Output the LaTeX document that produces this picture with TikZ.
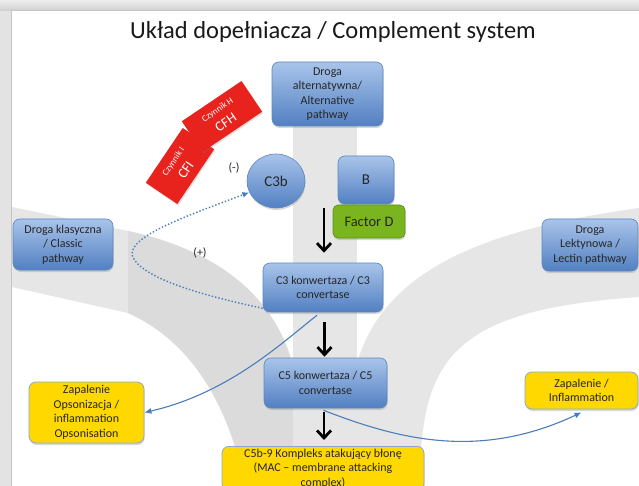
\documentclass[tikz,border=0pt]{standalone}
\usepackage{fontspec}
\setmainfont{Carlito}
\usetikzlibrary{arrows.meta,shadows,calc,shapes.geometric}
\definecolor{bgY}{HTML}{E6E6E6}
\definecolor{bgYd}{HTML}{DBDBDB}
\definecolor{btop}{HTML}{A9C4EA}
\definecolor{bbot}{HTML}{5280C2}
\definecolor{bdraw}{HTML}{5A86C2}
\definecolor{ylw}{HTML}{FFD800}
\definecolor{ydraw}{HTML}{8CA6CF}
\definecolor{grn}{HTML}{7AB51F}
\definecolor{gdraw}{HTML}{5C8E1A}
\definecolor{redc}{HTML}{E8221C}
\definecolor{lnblue}{HTML}{4A7EBB}
\tikzset{
  boxshadow/.style={drop shadow={opacity=0.3, shadow xshift=0.6pt, shadow yshift=-2pt}},
  bluebox/.style={rounded corners=7pt, draw=bdraw, line width=0.6pt, top color=btop, bottom color=bbot,
    align=center, inner sep=1pt, text=black!85, font=\fontsize{12}{14.5}\selectfont, boxshadow},
  ylwbox/.style={rounded corners=7pt, draw=ydraw, line width=0.8pt, fill=ylw,
    align=center, inner sep=1pt, text=black!85, font=\fontsize{12}{14.5}\selectfont, boxshadow},
  redbox/.style={fill=redc, align=center, inner sep=1pt, text=white, font=\fontsize{9}{15}\selectfont,
    drop shadow={opacity=0.25, shadow xshift=1pt, shadow yshift=-1.5pt}},
  bigarrow/.style={line width=2.8pt, -{Straight Barb[length=7.5pt,width=14pt]}},
  bluecurve/.style={draw=lnblue, line width=1.1pt, -{Latex[length=7pt,width=6pt]}},
  dotcurve/.style={draw=lnblue, line width=1.4pt, dotted, -{Latex[length=7pt,width=6pt]}},
  plainlabel/.style={font=\fontsize{12}{14}\selectfont, text=black!85, inner sep=0pt}
}
\begin{document}
\begin{tikzpicture}[x=1pt,y=-1pt]
\useasboundingbox (0,0) rectangle (639,486);
% slide frame
\fill[gray!22] (0,0) rectangle (639,486);
\shade[top color=gray!14, bottom color=gray!38] (0,0) rectangle (639,11);
\fill[gray!45] (10.5,10) rectangle (639,11.5);
\fill[gray!45] (10.5,10) rectangle (12,486);
\fill[white] (12,11.5) rectangle (639,486);
% background Y
\fill[bgY] (293,125) rectangle (357,486);
\fill[bgY] (639,208) .. controls (520,225) and (390,255) .. (358,360) -- (345,486) -- (420,486)
  .. controls (420,360) and (450,310) .. (639,297) -- cycle;
\fill[bgY] (12,207) -- (128,231) .. controls (220,251) and (282,300) .. (296,380) -- (305,486) -- (245,486)
  .. controls (232,420) and (200,345) .. (128,313) -- (12,287) -- cycle;
\begin{scope}
\clip (12,207) -- (128,231) .. controls (220,251) and (282,300) .. (296,380) -- (305,486) -- (245,486)
  .. controls (232,420) and (200,345) .. (128,313) -- (12,287) -- cycle;
\fill[bgYd] (128,0) rectangle (293,486);
\end{scope}
% title
\node[font=\fontsize{24.5}{28}\selectfont, text=black!90] (title) at (333,32) {Układ dopełniacza / Complement system};
% red factors
\node[redbox, rotate=56, minimum width=66pt, minimum height=38pt] (cfi) at (180,166)
  {Czynnik I\\[1.5pt]{\fontsize{14}{15}\selectfont CFI}};
\node[redbox, rotate=34, minimum width=72pt, minimum height=37pt] (cfh) at (222,116.5)
  {Czynnik H\\[1.5pt]{\fontsize{14}{15}\selectfont CFH}};
% blue boxes
\node[bluebox, minimum width=111pt, minimum height=64pt] (alt) at (327.5,94)
  {Droga\\alternatywna/\\Alternative\\pathway};
\node[bluebox, rounded corners=0pt, ellipse, minimum width=58pt, minimum height=54pt,
  font=\fontsize{15}{16}\selectfont] (c3b) at (276,181) {C3b};
\node[bluebox, minimum width=56pt, minimum height=48pt, font=\fontsize{15}{16}\selectfont] (b) at (366,180) {B};
\node[rounded corners=5pt, draw=gdraw, line width=0.6pt, fill=grn, minimum width=72pt, minimum height=33pt,
  font=\fontsize{14.5}{16}\selectfont, text=black!85, boxshadow, inner sep=1pt] (fd) at (369,221.5) {Factor D};
\node[bluebox, minimum width=120pt, minimum height=49pt] (c3conv) at (323,287.5)
  {C3 konwertaza / C3\\convertase};
\node[bluebox, minimum width=123pt, minimum height=50pt] (c5conv) at (325.5,383)
  {C5 konwertaza / C5\\convertase};
\node[bluebox, minimum width=100pt, minimum height=51pt] (classic) at (63,244.5)
  {Droga klasyczna\\/ Classic\\pathway};
\node[bluebox, minimum width=96pt, minimum height=52pt] (lectin) at (590,245)
  {Droga\\Lektynowa /\\Lectin pathway};
% yellow boxes
\node[ylwbox, minimum width=115pt, minimum height=61pt] (zapl) at (86.5,412.5)
  {Zapalenie\\Opsonizacja /\\inflammation\\Opsonisation};
\node[ylwbox, minimum width=113pt, minimum height=37pt] (zapr) at (581.5,390.5)
  {Zapalenie /\\Inflammation};
\node[ylwbox, anchor=north, minimum width=202pt, inner ysep=2.5pt] (mac) at (323,446)
  {C5b-9 Kompleks atakujący błonę\\(MAC – membrane attacking\\complex)};
% labels
\node[plainlabel] (minus) at (234,168) {(-)};
\node[plainlabel] (plus) at (200,253) {(+)};
% black arrows
\coordinate (a1s) at (324,208);
\draw[bigarrow, shorten >=10pt] (a1s) -- (a1s |- c3conv.north);
\draw[bigarrow, shorten <=10pt, shorten >=1pt] ([xshift=1.5pt]c3conv.south) -- ([xshift=1.5pt]c3conv.south |- c5conv.north);
\draw[bigarrow, shorten <=4pt, shorten >=6pt] ([xshift=-1.5pt]c5conv.south) -- ([xshift=-1.5pt]c5conv.south |- mac.north);
% blue connectors
\draw[dotcurve] ([yshift=4pt]c3conv.south west) .. controls (215,298) and (140,280) .. (132,255)
  .. controls (130,235) and (190,215) .. (c3b.203);
\draw[bluecurve] ([xshift=-6pt,yshift=-3pt]c3conv.south) .. controls (285,340) and (230,393) .. (zapl.east);
\draw[bluecurve] ([xshift=-2pt,yshift=-2pt]c5conv.south) .. controls (400,440) and (480,460) .. ([yshift=-3pt]zapr.south);
\end{tikzpicture}
\end{document}
